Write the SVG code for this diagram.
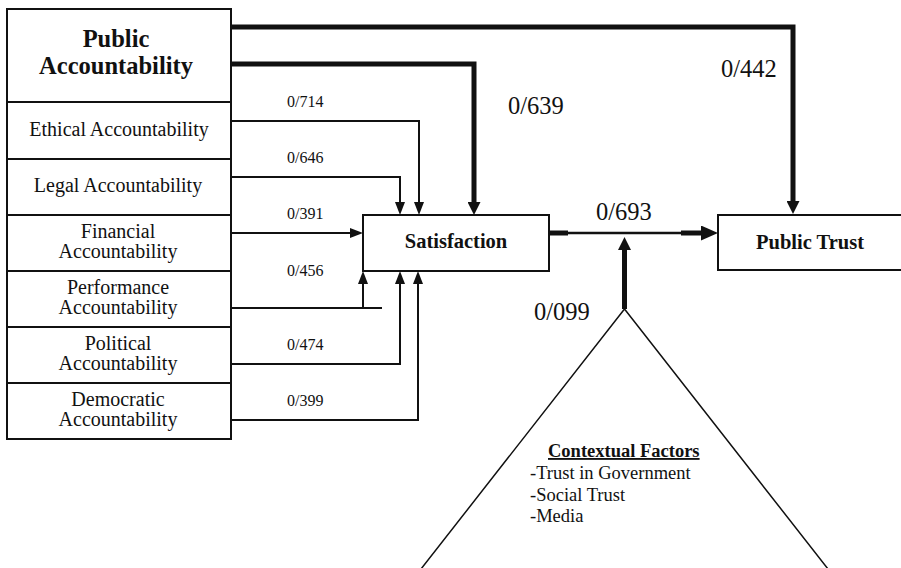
<svg xmlns="http://www.w3.org/2000/svg" width="901" height="568" viewBox="0 0 901 568" font-family="'Liberation Serif', 'Times New Roman', 'DejaVu Serif', serif">
<defs>
<style>
text{font-family:'Liberation Serif','Times New Roman','DejaVu Serif',serif;fill:#111}
.box{fill:#fff;stroke:#111;stroke-width:2}
.row{font-size:20px;text-anchor:middle}
.bold{font-weight:bold}
.lbl{font-size:16px}
.big{font-size:24.5px}
.ctx{font-size:18.5px}
.thin{fill:none;stroke:#111;stroke-width:2}
.thick{fill:none;stroke:#111;stroke-width:5}
.mid{fill:none;stroke:#111;stroke-width:2.5}
</style>
<marker id="ahS" viewBox="0 0 13 10" refX="1" refY="5" markerWidth="13" markerHeight="10" markerUnits="userSpaceOnUse" orient="auto"><path d="M0,0 L13,5 L0,10z" fill="#111"/></marker>
<marker id="ahB" viewBox="0 0 13 13" refX="1" refY="6.5" markerWidth="13" markerHeight="13" markerUnits="userSpaceOnUse" orient="auto"><path d="M0,0 L13,6.5 L0,13z" fill="#111"/></marker>
<marker id="ahL" viewBox="0 0 17 15" refX="1" refY="7.5" markerWidth="17" markerHeight="15" markerUnits="userSpaceOnUse" orient="auto"><path d="M0,0 L17,7.5 L0,15z" fill="#111"/></marker>
</defs>
<rect width="901" height="568" fill="#fff"/>

<g id="connectors">
<path class="thick" d="M231,27 H793 V202" marker-end="url(#ahB)"/>
<path class="thick" d="M231,64 H474 V203" marker-end="url(#ahB)"/>
<path class="thin" d="M231,121 H419 V203" marker-end="url(#ahS)"/>
<path class="thin" d="M231,177 H400 V203" marker-end="url(#ahS)"/>
<path class="thin" d="M231,233 H351" marker-end="url(#ahS)"/>
<path class="thin" d="M231,308 H382"/>
<path class="thin" d="M363,308 V283" marker-end="url(#ahS)"/>
<path class="thin" d="M231,364 H400 V283" marker-end="url(#ahS)"/>
<path class="thin" d="M231,420 H418 V283" marker-end="url(#ahS)"/>
<path class="mid" d="M549,233 H682"/>
<path class="thick" d="M549,233 H568"/>
<path class="thick" d="M681,233 H702" marker-end="url(#ahL)"/>
<path class="thick" d="M624.5,309 V249" marker-end="url(#ahB)"/>
<text class="lbl" x="287" y="107" font-family="'Liberation Serif', serif">0/714</text>
<text class="lbl" x="287" y="163" font-family="'Liberation Serif', serif">0/646</text>
<text class="lbl" x="287" y="219" font-family="'Liberation Serif', serif">0/391</text>
<text class="lbl" x="287" y="276" font-family="'Liberation Serif', serif">0/456</text>
<text class="lbl" x="287" y="350" font-family="'Liberation Serif', serif">0/474</text>
<text class="lbl" x="287" y="406" font-family="'Liberation Serif', serif">0/399</text>
<text class="big" x="508" y="114" font-family="'Liberation Serif', serif">0/639</text>
<text class="big" x="721" y="77" font-family="'Liberation Serif', serif">0/442</text>
<text class="big" x="596" y="220" font-family="'Liberation Serif', serif">0/693</text>
<text class="big" x="534" y="320" font-family="'Liberation Serif', serif">0/099</text>
</g>

<g id="accountability">
<rect class="box" x="7" y="9" width="224" height="430"/>
<path d="M7,102 H231 M7,159 H231 M7,215 H231 M7,271 H231 M7,327 H231 M7,383 H231" stroke="#111" stroke-width="2"/>
</g>
<g id="public-accountability" font-family="'Liberation Serif', serif">
<text class="bold" x="116" y="47" text-anchor="middle" font-size="24.5">Public</text>
<text class="bold" x="116" y="74" text-anchor="middle" font-size="24.5">Accountability</text>
</g>
<g id="ethical" font-family="'Liberation Serif', serif"><text class="row" x="119" y="136">Ethical Accountability</text></g>
<g id="legal" font-family="'Liberation Serif', serif"><text class="row" x="118" y="192">Legal Accountability</text></g>
<g id="financial" font-family="'Liberation Serif', serif"><text class="row" x="118" y="238">Financial</text><text class="row" x="118" y="258">Accountability</text></g>
<g id="performance" font-family="'Liberation Serif', serif"><text class="row" x="118" y="294">Performance</text><text class="row" x="118" y="314">Accountability</text></g>
<g id="political" font-family="'Liberation Serif', serif"><text class="row" x="118" y="350">Political</text><text class="row" x="118" y="370">Accountability</text></g>
<g id="democratic" font-family="'Liberation Serif', serif"><text class="row" x="118" y="406">Democratic</text><text class="row" x="118" y="426">Accountability</text></g>

<g id="satisfaction" font-family="'Liberation Serif', serif">
<rect class="box" x="363" y="215" width="186" height="56"/>
<text class="bold" x="456" y="248" text-anchor="middle" font-size="20.5">Satisfaction</text>
</g>

<g id="public-trust" font-family="'Liberation Serif', serif">
<rect class="box" x="718" y="215" width="190" height="55"/>
<text class="bold" x="810" y="249" text-anchor="middle" font-size="20.5">Public Trust</text>
</g>

<g id="contextual-factors" font-family="'Liberation Serif', serif">
<path d="M421,569 L624.5,309 L828,569" fill="none" stroke="#111" stroke-width="1.5"/>
<text class="ctx bold" x="548" y="457" text-decoration="underline">Contextual Factors</text>
<text class="ctx" x="530" y="479">-Trust in Government</text>
<text class="ctx" x="530" y="501">-Social Trust</text>
<text class="ctx" x="530" y="522">-Media</text>
</g>
</svg>
